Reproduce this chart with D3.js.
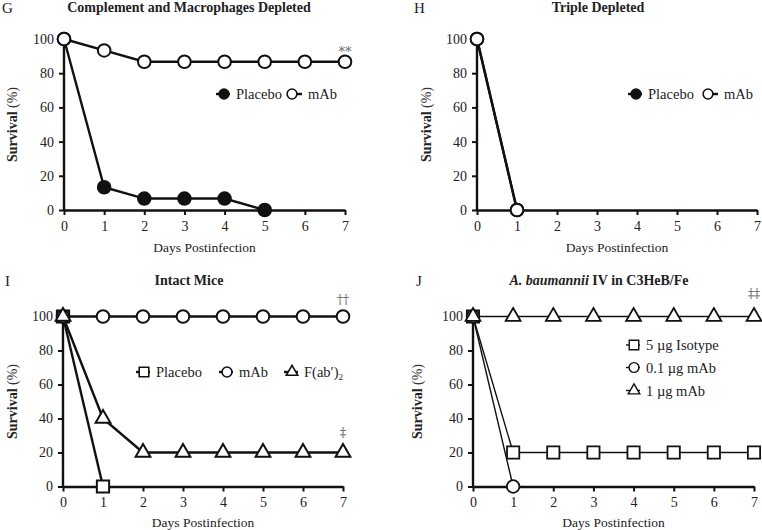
<!DOCTYPE html>
<html>
<head>
<meta charset="utf-8">
<script src="https://cdn.jsdelivr.net/npm/d3@7"></script>
<style>
body { margin: 0; background: #fff; }
text { font-family: "Liberation Serif", "DejaVu Serif", serif; fill: #222; }
</style>
</head>
<body>
<svg id="chart" width="762" height="530"></svg>
<script>
'use strict';

var days = [0, 1, 2, 3, 4, 5, 6, 7];
var yTicks = [0, 20, 40, 60, 80, 100];

// G: complement and macrophages depleted
var gPlacebo = [100, 13.3, 6.7, 6.7, 6.7, 0];
var gMab = [100, 93.3, 86.7, 86.7, 86.7, 86.7, 86.7, 86.7];
// H: triple depleted
var hPlacebo = [100, 0];
var hMab = [100, 0];
// I: intact mice
var iPlacebo = [100, 0];
var iMab = [100, 100, 100, 100, 100, 100, 100, 100];
var iFab = [100, 40, 20, 20, 20, 20, 20, 20];
// J: A. baumannii IV in C3HeB/Fe
var jIsotype = [100, 20, 20, 20, 20, 20, 20, 20];
var jMab01 = [100, 0];
var jMab1 = [100, 100, 100, 100, 100, 100, 100, 100];

var svg = d3.select('#chart');
var serif = '"Liberation Serif", "DejaVu Serif", serif';

function marker(g, shape, fill, sw) {
	if (shape === 'circle') {
		return g.append('circle').attr('r', 6.3)
			.attr('fill', fill).attr('stroke', '#111').attr('stroke-width', sw);
	}
	var sym = shape === 'square' ? d3.symbolSquare : d3.symbolTriangle;
	var size = shape === 'square' ? 150 : 95;
	return g.append('path').attr('d', d3.symbol(sym, size)())
		.attr('fill', fill).attr('stroke', '#111').attr('stroke-width', sw);
}

function drawPanel(p) {
	var x = d3.scaleLinear().domain([0, 7]).range([p.left, p.right]);
	var y = d3.scaleLinear().domain([0, 100]).range([p.bottom, p.top]);
	var g = svg.append('g');

	var xAxis = g.append('g').attr('transform', 'translate(0,' + p.bottom + ')')
		.call(d3.axisBottom(x).tickValues(days).tickFormat(d3.format('d'))
			.tickSize(5).tickPadding(6).tickSizeOuter(0));
	var yAxis = g.append('g').attr('transform', 'translate(' + p.left + ',0)')
		.call(d3.axisLeft(y).tickValues(yTicks).tickFormat(d3.format('d'))
			.tickSize(5).tickPadding(5).tickSizeOuter(0));
	[xAxis, yAxis].forEach(function(a) {
		a.attr('font-family', serif).attr('font-size', null);
		a.select('.domain').attr('stroke', '#111').attr('stroke-width', 2.4);
		a.selectAll('.tick line').attr('stroke', '#111').attr('stroke-width', 2);
		a.selectAll('.tick text').attr('font-size', 14).attr('fill', '#333');
	});
	yAxis.select('.domain').attr('d', 'M0,' + p.bottom + 'V' + (p.top - 2));

	g.append('text').attr('x', (p.left + p.right) / 2).attr('y', p.bottom + p.xlabelDy)
		.attr('text-anchor', 'middle').attr('font-size', 13.5).attr('fill', '#333')
		.text('Days Postinfection');

	var yl = g.append('text')
		.attr('transform', 'translate(' + p.ylabelX + ',' + ((p.top + p.bottom) / 2) + ') rotate(-90)')
		.attr('text-anchor', 'middle').attr('font-size', 14);
	yl.append('tspan').attr('font-weight', 'bold').text('Survival');
	yl.append('tspan').attr('fill', '#333').text(' (%)');

	g.append('text').attr('x', p.letterX).attr('y', p.titleY + 1).attr('font-size', 15)
		.attr('fill', '#333').text(p.letter);
	var tt = g.append('text').attr('x', p.titleX).attr('y', p.titleY)
		.attr('text-anchor', 'middle').attr('font-size', 14).attr('font-weight', 'bold');
	p.title.forEach(function(part) {
		tt.append('tspan').attr('font-style', part[1] ? 'italic' : 'normal').text(part[0]);
	});

	var line = d3.line().x(function(d, i) { return x(days[i]); }).y(function(d) { return y(d); });
	p.series.forEach(function(s) {
		g.append('path').datum(s.values).attr('d', line)
			.attr('fill', 'none').attr('stroke', '#111').attr('stroke-width', p.lw);
	});
	p.series.forEach(function(s) {
		s.values.forEach(function(v, i) {
			var m = g.append('g').attr('transform', 'translate(' + x(days[i]) + ',' + y(v) + ')');
			marker(m, s.shape, s.fill, p.msw);
		});
	});

	p.legend.forEach(function(l) {
		var s = p.series[l.idx];
		var lg = g.append('g').attr('transform', 'translate(' + l.x + ',' + l.y + ')');
		lg.append('line').attr('x1', -8).attr('x2', 6).attr('stroke', '#111').attr('stroke-width', p.lw);
		marker(lg.append('g').attr('transform', 'translate(' + (l.mx || 0) + ',0)').append('g'), s.shape, s.fill, p.msw)
			.attr('transform', 'scale(0.78)');
		var t = lg.append('text').attr('x', 12).attr('y', 5).attr('font-size', 14.5).attr('fill', '#333').text(s.name);
		if (s.sub) t.append('tspan').attr('font-size', 9).attr('dy', 3).text(s.sub);
	});

	p.notes.forEach(function(n) {
		g.append('text').attr('x', x(7)).attr('y', n.y).attr('text-anchor', 'middle')
			.attr('font-size', n.size || 13).style('fill', '#666')
			.style('font-family', '"DejaVu Serif", serif').text(n.text);
	});
}

drawPanel({
	letter: 'G', letterX: 2, title: [['Complement and Macrophages Depleted', false]], titleX: 189, titleY: 12,
	left: 64, right: 345, top: 39, bottom: 210, ylabelX: 17, xlabelDy: 42, lw: 2.4, msw: 2,
	series: [
		{ name: 'Placebo', values: gPlacebo, shape: 'circle', fill: '#111' },
		{ name: 'mAb', values: gMab, shape: 'circle', fill: '#fff' }
	],
	legend: [{ idx: 0, x: 224, y: 94 }, { idx: 1, x: 296, y: 94, mx: -4 }],
	notes: [{ text: '**', y: 56 }]
});

drawPanel({
	letter: 'H', letterX: 414, title: [['Triple Depleted', false]], titleX: 598, titleY: 12,
	left: 477, right: 757, top: 39, bottom: 210, ylabelX: 431, xlabelDy: 42, lw: 2.4, msw: 2,
	series: [
		{ name: 'Placebo', values: hPlacebo, shape: 'circle', fill: '#111' },
		{ name: 'mAb', values: hMab, shape: 'circle', fill: '#fff' }
	],
	legend: [{ idx: 0, x: 636, y: 94 }, { idx: 1, x: 712, y: 94, mx: -4 }],
	notes: []
});

drawPanel({
	letter: 'I', letterX: 5, title: [['Intact Mice', false]], titleX: 189, titleY: 285,
	left: 63, right: 343, top: 316.5, bottom: 486.5, ylabelX: 17, xlabelDy: 40, lw: 2.4, msw: 2,
	series: [
		{ name: 'Placebo', values: iPlacebo, shape: 'square', fill: '#fff' },
		{ name: 'mAb', values: iMab, shape: 'circle', fill: '#fff' },
		{ name: 'F(ab\u2032)', sub: '2', values: iFab, shape: 'triangle', fill: '#fff' }
	],
	legend: [{ idx: 0, x: 144, y: 372 }, { idx: 1, x: 227, y: 372 }, { idx: 2, x: 292, y: 372 }],
	notes: [{ text: '\u2020\u2020', y: 304, size: 12 }, { text: '\u2021', y: 437, size: 13 }]
});

drawPanel({
	letter: 'J', letterX: 416, title: [['A. baumannii', true], [' IV in C3HeB/Fe', false]], titleX: 599, titleY: 285,
	left: 473, right: 754, top: 316.5, bottom: 486.5, ylabelX: 422, xlabelDy: 40, lw: 1.4, msw: 1.8,
	series: [
		{ name: '5 \u00b5g Isotype', values: jIsotype, shape: 'square', fill: '#fff' },
		{ name: '0.1 \u00b5g mAb', values: jMab01, shape: 'circle', fill: '#fff' },
		{ name: '1 \u00b5g mAb', values: jMab1, shape: 'triangle', fill: '#fff' }
	],
	legend: [{ idx: 0, x: 634, y: 345 }, { idx: 1, x: 634, y: 367.5 }, { idx: 2, x: 634, y: 390.5 }],
	notes: [{ text: '\u2021\u2021', y: 298, size: 12 }]
});
</script>
</body>
</html>
